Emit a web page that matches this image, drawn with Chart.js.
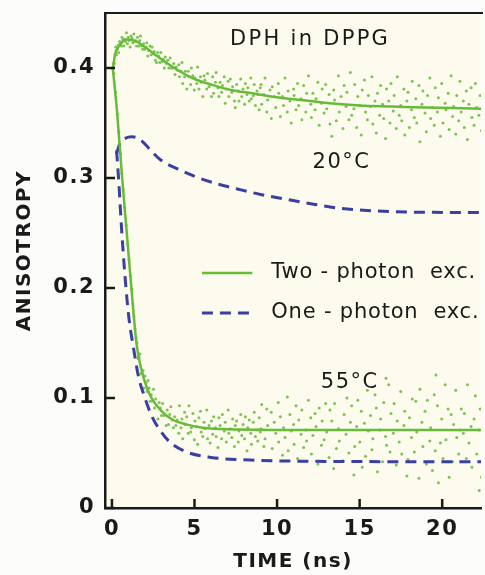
<!DOCTYPE html>
<html>
<head>
<meta charset="utf-8">
<script src="https://cdn.jsdelivr.net/npm/chart.js@4"></script>
<style>
  html, body { margin: 0; padding: 0; background: #fcfcfa; }
  #wrap { width: 485px; height: 575px; }
</style>
</head>
<body>
<div id="wrap"><canvas id="chart" width="485" height="575"></canvas></div>
<script>
// tick labels
var xTicks = [0, 5, 10, 15, 20];
var yTicks = [0, 0.1, 0.2, 0.3, 0.4];

// fitted curves
var fit2p20t = [0.05, 0.2, 0.5, 0.8, 1.0, 1.5, 2.0, 3.0, 4.0, 5.0, 6.0, 7.2, 8.5, 10.2, 12.0, 13.2, 15.0, 17.0, 19.0, 22.5];
var fit2p20v = [0.398, 0.413, 0.421, 0.426, 0.426, 0.424, 0.419, 0.408, 0.398, 0.390, 0.385, 0.380, 0.377, 0.373, 0.370, 0.368, 0.366, 0.365, 0.364, 0.363];

var fit1p20t = [0.28, 0.5, 0.8, 1.2, 1.7, 2.3, 2.9, 4.0, 5.1, 6.3, 7.6, 9.0, 10.8, 12.3, 13.8, 16.8, 19.5, 22.5];
var fit1p20v = [0.322, 0.332, 0.336, 0.3375, 0.335, 0.326, 0.317, 0.308, 0.301, 0.295, 0.290, 0.285, 0.280, 0.276, 0.2725, 0.2695, 0.2688, 0.2686];

var fit2p55t = [0.05, 0.3, 0.62, 0.9, 1.19, 1.5, 1.8, 2.1, 2.4, 3.0, 3.7, 4.5, 5.5, 7.0, 10.0, 22.5];
var fit2p55v = [0.400, 0.362, 0.300, 0.250, 0.198, 0.148, 0.125, 0.110, 0.100, 0.088, 0.080, 0.076, 0.073, 0.0715, 0.071, 0.0708];

var fit1p55t = [0.28, 0.4, 0.6, 0.85, 1.05, 1.3, 1.6, 2.0, 2.4, 2.9, 3.5, 4.5, 6.0, 8.4, 12.0, 22.5];
var fit1p55v = [0.325, 0.300, 0.250, 0.200, 0.170, 0.146, 0.120, 0.100, 0.084, 0.071, 0.060, 0.051, 0.046, 0.0436, 0.0425, 0.042];

// measured points, 20 C
var pts20t = [0.08, 0.14, 0.19, 0.23, 0.27, 0.33, 0.38, 0.41, 0.47, 0.52, 0.58, 0.61, 0.67, 0.72, 0.78, 0.83, 0.88, 0.94, 0.99, 1.04,
  1.10, 1.16, 1.21, 1.27, 1.33, 1.38, 1.44, 1.49, 1.55, 1.62, 1.68, 1.73, 1.79, 1.86, 1.92, 1.98, 2.05, 2.11, 2.17, 2.24,
  2.30, 2.37, 2.43, 2.50, 2.56, 2.63, 2.70, 2.76, 2.83, 2.90, 2.96, 3.03, 3.10, 3.17, 3.23, 3.31, 3.38, 3.45, 3.52, 3.60,
  3.67, 3.74, 3.82, 3.89, 3.97,
  4.05, 4.09, 4.18, 4.24, 4.29, 4.40, 4.44, 4.53, 4.62, 4.66, 4.77, 4.81, 4.90, 4.99, 5.03, 5.14, 5.19, 5.27, 5.36, 5.41,
  5.50, 5.58, 5.63, 5.74, 5.79, 5.88, 5.95, 6.03, 6.10, 6.16, 6.27, 6.31, 6.42, 6.48, 6.55, 6.64, 6.69, 6.80, 6.86, 6.93,
  7.04, 7.08, 7.17, 7.26, 7.31, 7.42, 7.47, 7.55, 7.65, 7.69, 7.80, 7.86, 7.94, 8.03, 8.08, 8.18, 8.23, 8.32, 8.41, 8.45,
  8.56, 8.62, 8.69, 8.79, 8.83, 8.92, 8.98,
  9.03, 9.07, 9.20, 9.27, 9.38, 9.43, 9.57, 9.65, 9.71, 9.83, 9.92, 10.07, 10.10, 10.20, 10.33, 10.39, 10.48, 10.62, 10.67, 10.78,
  10.86, 11.00, 11.03, 11.15, 11.24, 11.31, 11.45, 11.50, 11.61, 11.74, 11.79, 11.90, 12.04, 12.08, 12.17, 12.30, 12.36, 12.47, 12.55, 12.69,
  12.73, 12.85, 12.94, 13.01, 13.15, 13.20, 13.31, 13.43, 13.48, 13.59, 13.72, 13.77, 13.88, 13.99, 14.06, 14.18, 14.23, 14.35, 14.44, 14.52,
  14.65, 14.70, 14.82, 14.89, 15.01, 15.10, 15.16, 15.29, 15.36, 15.47, 15.53, 15.66, 15.74, 15.80, 15.93, 16.01, 16.08, 16.21, 16.27, 16.39,
  16.46, 16.57, 16.63, 16.76, 16.84, 16.90, 17.04, 17.09, 17.22, 17.28, 17.40, 17.49, 17.55, 17.68, 17.73, 17.86, 17.93, 18.02, 18.14, 18.19,
  18.31, 18.40, 18.46, 18.59, 18.65, 18.77, 18.83, 18.96, 19.04, 19.11, 19.25, 19.30, 19.41, 19.52, 19.58, 19.71, 19.77, 19.89, 19.97, 20.05,
  20.18, 20.23, 20.36, 20.42, 20.54, 20.63, 20.69, 20.82, 20.88, 21.00, 21.07, 21.15, 21.28, 21.34, 21.46, 21.53, 21.62, 21.75, 21.80, 21.93,
  22.01, 22.09, 22.22, 22.30, 22.38];
var pts20v = [0.404, 0.404, 0.412, 0.419, 0.412, 0.417, 0.421, 0.414, 0.424, 0.422, 0.420, 0.428, 0.426, 0.420, 0.426, 0.424, 0.432, 0.422, 0.428, 0.425,
  0.419, 0.429, 0.427, 0.423, 0.431, 0.424, 0.425, 0.420, 0.428, 0.420, 0.425, 0.429, 0.420, 0.417, 0.422, 0.417, 0.419, 0.423, 0.411, 0.416,
  0.420, 0.412, 0.419, 0.413, 0.415, 0.407, 0.405, 0.414, 0.411, 0.405, 0.414, 0.406, 0.408, 0.400, 0.410, 0.404, 0.407, 0.400, 0.409, 0.400,
  0.400, 0.404, 0.394, 0.401, 0.398,
  0.403, 0.392, 0.397, 0.405, 0.386, 0.392, 0.397, 0.381, 0.397, 0.392, 0.385, 0.400, 0.393, 0.380, 0.391, 0.386, 0.401, 0.381, 0.392, 0.387,
  0.374, 0.393, 0.389, 0.381, 0.395, 0.383, 0.385, 0.374, 0.392, 0.377, 0.387, 0.396, 0.382, 0.374, 0.387, 0.378, 0.384, 0.392, 0.368, 0.381,
  0.388, 0.374, 0.390, 0.378, 0.383, 0.370, 0.364, 0.385, 0.379, 0.370, 0.390, 0.374, 0.381, 0.367, 0.386, 0.376, 0.382, 0.370, 0.391, 0.372,
  0.375, 0.385, 0.366, 0.379, 0.376, 0.362, 0.382,
  0.385, 0.367, 0.376, 0.391, 0.360, 0.371, 0.380, 0.354, 0.383, 0.374, 0.364, 0.386, 0.377, 0.356, 0.374, 0.366, 0.391, 0.360, 0.379, 0.370,
  0.350, 0.381, 0.375, 0.362, 0.386, 0.366, 0.372, 0.353, 0.384, 0.360, 0.377, 0.393, 0.367, 0.355, 0.377, 0.362, 0.372, 0.387, 0.348, 0.368,
  0.381, 0.359, 0.385, 0.363, 0.376, 0.349, 0.338, 0.380, 0.371, 0.352, 0.393, 0.360, 0.374, 0.345, 0.384, 0.365, 0.378, 0.353, 0.396, 0.357,
  0.363, 0.385, 0.346, 0.374, 0.366, 0.339, 0.380, 0.389, 0.360, 0.353, 0.375, 0.365, 0.392, 0.349, 0.370, 0.341, 0.377, 0.357, 0.384, 0.367,
  0.354, 0.336, 0.381, 0.370, 0.350, 0.386, 0.361, 0.375, 0.345, 0.392, 0.357, 0.366, 0.352, 0.381, 0.339, 0.370, 0.378, 0.346, 0.362, 0.388,
  0.355, 0.372, 0.350, 0.384, 0.333, 0.367, 0.379, 0.359, 0.342, 0.375, 0.391, 0.354, 0.364, 0.348, 0.382, 0.360, 0.373, 0.338, 0.386, 0.350,
  0.368, 0.362, 0.377, 0.344, 0.393, 0.356, 0.365, 0.340, 0.375, 0.352, 0.388, 0.360, 0.370, 0.346, 0.379, 0.335, 0.367, 0.382, 0.355, 0.348,
  0.386, 0.364, 0.357, 0.375, 0.343];

// measured points, 55 C
var pts55t = [0.12, 0.22, 0.33, 0.42, 0.51, 0.60, 0.68, 0.77, 0.86, 0.95, 1.03, 1.11, 1.19, 1.26, 1.33, 1.40, 1.46,
  1.52, 1.58, 1.64, 1.70, 1.76, 1.82, 1.88, 1.94, 2.00, 2.06, 2.13, 2.19, 2.25, 2.32, 2.38, 2.45, 2.52, 2.58, 2.65, 2.72,
  2.79, 2.86, 2.93, 3.00, 3.07, 3.14, 3.21, 3.28, 3.35, 3.43, 3.50, 3.57, 3.65, 3.72, 3.80, 3.87, 3.95,
  4.05, 4.09, 4.18, 4.24, 4.29, 4.40, 4.44, 4.53, 4.62, 4.66, 4.77, 4.81, 4.90, 4.99, 5.03, 5.14, 5.19, 5.27, 5.36, 5.41,
  5.50, 5.58, 5.63, 5.74, 5.79, 5.88, 5.95, 6.03, 6.10, 6.16, 6.27, 6.31, 6.42, 6.48, 6.55, 6.64, 6.69, 6.80, 6.86, 6.93,
  7.04, 7.08, 7.17, 7.26, 7.31, 7.42, 7.47, 7.55, 7.65, 7.69, 7.80, 7.86, 7.94, 8.03, 8.08, 8.18, 8.23, 8.32, 8.41, 8.45,
  8.56, 8.62, 8.69, 8.79, 8.83, 8.92, 8.98,
  9.03, 9.07, 9.20, 9.27, 9.38, 9.43, 9.57, 9.65, 9.71, 9.83, 9.92, 10.07, 10.10, 10.20, 10.33, 10.39, 10.48, 10.62, 10.67, 10.78,
  10.86, 11.00, 11.03, 11.15, 11.24, 11.31, 11.45, 11.50, 11.61, 11.74, 11.79, 11.90, 12.04, 12.08, 12.17, 12.30, 12.36, 12.47, 12.55, 12.69,
  12.73, 12.85, 12.94, 13.01, 13.15, 13.20, 13.31, 13.43, 13.48, 13.59, 13.72, 13.77, 13.88, 13.99, 14.06, 14.18, 14.23, 14.35, 14.44, 14.52,
  14.65, 14.70, 14.82, 14.89, 15.01, 15.10, 15.16, 15.29, 15.36, 15.47, 15.53, 15.66, 15.74, 15.80, 15.93, 16.01, 16.08, 16.21, 16.27, 16.39,
  16.46, 16.57, 16.63, 16.76, 16.84, 16.90, 17.04, 17.09, 17.22, 17.28, 17.40, 17.49, 17.55, 17.68, 17.73, 17.86, 17.93, 18.02, 18.14, 18.19,
  18.31, 18.40, 18.46, 18.59, 18.65, 18.77, 18.83, 18.96, 19.04, 19.11, 19.25, 19.30, 19.41, 19.52, 19.58, 19.71, 19.77, 19.89, 19.97, 20.05,
  20.18, 20.23, 20.36, 20.42, 20.54, 20.63, 20.69, 20.82, 20.88, 21.00, 21.07, 21.15, 21.28, 21.34, 21.46, 21.53, 21.62, 21.75, 21.80, 21.93,
  22.01, 22.09, 22.22, 22.30, 22.38, 16.60, 19.62, 22.24];
var pts55v = [0.395, 0.378, 0.358, 0.342, 0.322, 0.304, 0.290, 0.273, 0.257, 0.240, 0.226, 0.211, 0.199, 0.186, 0.174, 0.163, 0.155,
  0.150, 0.136, 0.137, 0.140, 0.122, 0.123, 0.125, 0.109, 0.120, 0.114, 0.106, 0.116, 0.109, 0.097, 0.103, 0.097, 0.108, 0.091, 0.099, 0.093,
  0.081, 0.096, 0.091, 0.084, 0.095, 0.084, 0.085, 0.075, 0.089, 0.076, 0.085, 0.092, 0.080, 0.073, 0.083, 0.075, 0.080,
  0.068, 0.093, 0.073, 0.081, 0.063, 0.087, 0.076, 0.083, 0.068, 0.093, 0.069, 0.073, 0.086, 0.062, 0.079, 0.074, 0.058, 0.082, 0.088, 0.069,
  0.065, 0.078, 0.072, 0.089, 0.063, 0.075, 0.059, 0.079, 0.067, 0.083, 0.073, 0.065, 0.055, 0.082, 0.075, 0.063, 0.085, 0.070, 0.078, 0.060,
  0.089, 0.068, 0.072, 0.064, 0.081, 0.056, 0.075, 0.079, 0.060, 0.070, 0.085, 0.066, 0.076, 0.063, 0.083, 0.052, 0.073, 0.080, 0.068, 0.058,
  0.078, 0.087, 0.065, 0.071, 0.061, 0.082, 0.069,
  0.072, 0.094, 0.056, 0.063, 0.090, 0.075, 0.043, 0.087, 0.054, 0.078, 0.068, 0.096, 0.060, 0.083, 0.048, 0.073, 0.064, 0.101, 0.052, 0.085,
  0.070, 0.076, 0.058, 0.093, 0.045, 0.080, 0.067, 0.089, 0.055, 0.071, 0.061, 0.098, 0.082, 0.049, 0.066, 0.086, 0.074, 0.040, 0.091, 0.057,
  0.079, 0.062, 0.095, 0.069, 0.046, 0.089, 0.079, 0.036, 0.095, 0.054, 0.072, 0.061, 0.110, 0.043, 0.085, 0.067, 0.100, 0.050, 0.078, 0.093,
  0.030, 0.056, 0.074, 0.098, 0.060, 0.088, 0.037, 0.077, 0.047, 0.107, 0.070, 0.084, 0.053, 0.063, 0.103, 0.091, 0.033, 0.071, 0.081, 0.042,
  0.096, 0.065, 0.057, 0.112, 0.051, 0.086, 0.068, 0.095, 0.039, 0.079, 0.060, 0.106, 0.049, 0.075, 0.088, 0.029, 0.044, 0.082, 0.064, 0.099,
  0.051, 0.097, 0.069, 0.027, 0.108, 0.078, 0.056, 0.088, 0.040, 0.098, 0.061, 0.073, 0.034, 0.103, 0.052, 0.093, 0.023, 0.059, 0.081, 0.045,
  0.112, 0.062, 0.090, 0.028, 0.085, 0.042, 0.076, 0.107, 0.064, 0.049, 0.071, 0.090, 0.068, 0.086, 0.045, 0.112, 0.059, 0.074, 0.037, 0.081,
  0.102, 0.049, 0.071, 0.090, 0.028, 0.118, 0.121, 0.016];

var green = "#66bb38";
var dotGreen = "#7cc452";
var blue = "#3a3fa3";
var ink = "#1a1a1a";

function pairs(ts, vs) {
    var out = [];
    for (var i = 0; i < ts.length; i++) {
        out.push({ x: ts[i], y: vs[i] });
    }
    return out;
}

// no extra room for the end tick labels
function noPad(s) {
    s.paddingTop = 0;
    s.paddingBottom = 0;
    s.paddingLeft = 0;
    s.paddingRight = 0;
}

// cream plot area, top border, inward ticks, labels and legend
var decor = {
    id: "decor",
    beforeDraw: function (chart) {
        var ctx = chart.ctx;
        var a = chart.chartArea;
        ctx.letterSpacing = "1.5px";
        ctx.save();
        ctx.fillStyle = "#fdfbee";
        ctx.fillRect(a.left, a.top, a.right - a.left, a.bottom - a.top);
        ctx.restore();
    },
    afterDraw: function (chart) {
        var ctx = chart.ctx;
        var a = chart.chartArea;
        var xs = chart.scales.x;
        var ys = chart.scales.y;
        ctx.save();
        ctx.strokeStyle = ink;
        ctx.lineWidth = 2;
        ctx.beginPath();
        ctx.moveTo(a.left - 1, a.top);
        ctx.lineTo(a.right + 2, a.top);
        ctx.stroke();
        ctx.lineWidth = 2.5;
        yTicks.forEach(function (v) {
            var py = ys.getPixelForValue(v);
            ctx.beginPath();
            ctx.moveTo(a.left, py);
            ctx.lineTo(a.left + 10, py);
            ctx.stroke();
        });
        xTicks.forEach(function (v) {
            var px = xs.getPixelForValue(v);
            ctx.beginPath();
            ctx.moveTo(px, a.bottom);
            ctx.lineTo(px, a.bottom - 9);
            ctx.stroke();
        });

        ctx.fillStyle = ink;
        ctx.textBaseline = "middle";
        ctx.textAlign = "center";

        // y axis title
        ctx.save();
        ctx.font = "bold 20px 'DejaVu Sans'";
        ctx.translate(25, ys.getPixelForValue(0.234));
        ctx.rotate(-Math.PI / 2);
        ctx.fillText("ANISOTROPY", 0, 0);
        ctx.restore();

        ctx.font = "21px 'DejaVu Sans'";
        ctx.letterSpacing = "2.3px";
        ctx.fillText("DPH in DPPG", xs.getPixelForValue(12.0), ys.getPixelForValue(0.4255));
        ctx.letterSpacing = "1.5px";
        ctx.fillText("20°C", xs.getPixelForValue(13.9), ys.getPixelForValue(0.3136));
        ctx.fillText("55°C", xs.getPixelForValue(14.4), ys.getPixelForValue(0.1136));

        // legend
        var l0 = xs.getPixelForValue(5.45), l1 = xs.getPixelForValue(8.5);
        var tx = xs.getPixelForValue(9.65);
        var r1 = ys.getPixelForValue(0.2136), r2 = ys.getPixelForValue(0.1773);
        ctx.lineWidth = 2.5;
        ctx.strokeStyle = green;
        ctx.beginPath();
        ctx.moveTo(l0, r1);
        ctx.lineTo(l1, r1);
        ctx.stroke();
        ctx.strokeStyle = blue;
        ctx.lineWidth = 3;
        ctx.setLineDash([11, 7]);
        ctx.beginPath();
        ctx.moveTo(l0, r2);
        ctx.lineTo(l1, r2);
        ctx.stroke();
        ctx.setLineDash([]);
        ctx.textAlign = "left";
        ctx.font = "21px 'DejaVu Sans'";
        ctx.letterSpacing = "0.8px";
        ctx.fillText("Two - photon  exc.", tx, r1);
        ctx.fillText("One - photon  exc.", tx, r2);
        ctx.restore();
    }
};

var ctx = document.getElementById("chart").getContext("2d");
var chart = new Chart(ctx, {
    type: "line",
    data: {
        datasets: [
            {
                type: "scatter",
                label: "20°C data",
                data: pairs(pts20t, pts20v),
                backgroundColor: dotGreen,
                borderWidth: 0,
                pointRadius: 1.5,
                order: 3
            },
            {
                type: "scatter",
                label: "55°C data",
                data: pairs(pts55t, pts55v),
                backgroundColor: dotGreen,
                borderWidth: 0,
                pointRadius: 1.5,
                order: 3
            },
            {
                label: "One-photon exc. 20°C",
                data: pairs(fit1p20t, fit1p20v),
                borderColor: blue,
                borderWidth: 3,
                borderDash: [11, 7],
                pointRadius: 0,
                cubicInterpolationMode: "monotone",
                fill: false,
                order: 2
            },
            {
                label: "One-photon exc. 55°C",
                data: pairs(fit1p55t, fit1p55v),
                borderColor: blue,
                borderWidth: 3,
                borderDash: [11, 7],
                pointRadius: 0,
                cubicInterpolationMode: "monotone",
                fill: false,
                order: 2
            },
            {
                label: "Two-photon exc. 20°C",
                data: pairs(fit2p20t, fit2p20v),
                borderColor: green,
                borderWidth: 2.5,
                pointRadius: 0,
                cubicInterpolationMode: "monotone",
                fill: false,
                order: 1
            },
            {
                label: "Two-photon exc. 55°C",
                data: pairs(fit2p55t, fit2p55v),
                borderColor: green,
                borderWidth: 2.5,
                pointRadius: 0,
                cubicInterpolationMode: "monotone",
                fill: false,
                order: 1
            }
        ]
    },
    options: {
        responsive: false,
        animation: false,
        layout: { padding: { left: 4, top: 13, right: 1, bottom: 1 } },
        plugins: {
            legend: { display: false },
            tooltip: { enabled: false }
        },
        scales: {
            x: {
                type: "linear",
                min: -0.42,
                max: 22.35,
                afterBuildTicks: function (s) { s.ticks = xTicks.map(function (v) { return { value: v }; }); },
                afterFit: function (s) { s.height = 66; noPad(s); },
                grid: { display: false, drawTicks: false },
                border: { display: true, color: ink, width: 2.5 },
                ticks: {
                    color: ink,
                    padding: 9,
                    maxRotation: 0,
                    font: { family: "'DejaVu Sans'", size: 21, weight: "bold" }
                },
                title: {
                    display: true,
                    text: "TIME (ns)",
                    color: ink,
                    padding: { top: 0, bottom: 0 },
                    font: { family: "'DejaVu Sans'", size: 20, weight: "bold", lineHeight: 1.2 }
                }
            },
            y: {
                min: 0,
                max: 0.45,
                afterBuildTicks: function (s) { s.ticks = yTicks.map(function (v) { return { value: v }; }); },
                afterFit: function (s) { s.width = 101; noPad(s); },
                grid: { display: false, drawTicks: false },
                border: { display: true, color: ink, width: 2.5 },
                ticks: {
                    color: ink,
                    padding: 10,
                    font: { family: "'DejaVu Sans'", size: 21, weight: "bold" },
                    callback: function (v) { return v === 0 ? "0" : v.toFixed(1); }
                }
            }
        }
    },
    plugins: [decor]
});
</script>
</body>
</html>
